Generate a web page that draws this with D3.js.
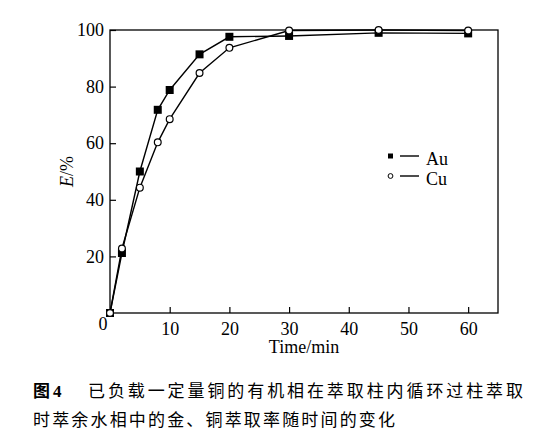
<!DOCTYPE html>
<html><head><meta charset="utf-8">
<script src="https://cdn.jsdelivr.net/npm/d3@7"></script>
<style>
html,body{margin:0;padding:0;background:#fff;}
svg{display:block;}
</style>
</head><body>
<svg id="chart" width="548" height="437"></svg>
<script>
const times = [0, 2, 5, 8, 10, 15, 20, 30, 45, 60];
const auValues = [0, 21.2, 50.0, 71.8, 78.8, 91.4, 97.6, 97.9, 99.0, 98.8];
const cuValues = [0, 22.8, 44.3, 60.3, 68.5, 84.8, 93.7, 99.8, 100, 99.8];
const xTicks = [10, 20, 30, 40, 50, 60];
const yTicks = [20, 40, 60, 80, 100];
const seriesNames = ["Au", "Cu"];
const xTitle = "Time/min";
const captionLine1 = "已负载一定量铜的有机相在萃取柱内循环过柱萃取";
const captionLine2 = "时萃余水相中的金、铜萃取率随时间的变化";

const svg = d3.select("#chart");
const W = 548, H = 437;
const m = {left: 110, top: 30, right: 50, bottom: 124};
const serif = "'Liberation Serif','Times New Roman',serif";
const x = d3.scaleLinear().domain([0, 65]).range([m.left, W - m.right]);
const y = d3.scaleLinear().domain([0, 100]).range([H - m.bottom, m.top]);

svg.append("rect").attr("width", W).attr("height", H).attr("fill", "#fff");

// axes
const gx = svg.append("g").attr("transform", `translate(0,${y(0)})`)
  .call(d3.axisBottom(x).tickValues(xTicks).tickSizeInner(-6).tickSizeOuter(0).tickPadding(9));
const gy = svg.append("g").attr("transform", `translate(${x(0)},0)`)
  .call(d3.axisLeft(y).tickValues(yTicks).tickSizeInner(-6).tickSizeOuter(0).tickPadding(6));
[gx, gy].forEach(g => {
  g.select(".domain").remove();
  g.selectAll(".tick line").attr("stroke", "#000").attr("stroke-width", 1.2);
  g.selectAll(".tick text").attr("fill", "#000").style("font-family", serif).style("font-size", "18px");
});
// origin label
svg.append("text").attr("x", x(0) - 7).attr("y", y(0) + 17).attr("text-anchor", "middle")
  .style("font-family", serif).style("font-size", "18px").text("0");

// frame
svg.append("rect").attr("x", x(0)).attr("y", y(100)).attr("width", x(65) - x(0)).attr("height", y(0) - y(100))
  .attr("fill", "none").attr("stroke", "#000").attr("stroke-width", 1.3);

// axis titles
svg.append("text").attr("x", (x(0) + x(65)) / 2).attr("y", 353).attr("text-anchor", "middle")
  .style("font-family", serif).style("font-size", "18px").text(xTitle);
const yt = svg.append("text").attr("transform", `translate(73,${(y(0) + y(100)) / 2}) rotate(-90)`)
  .attr("text-anchor", "middle").style("font-family", serif).style("font-size", "18px");
yt.append("tspan").style("font-style", "italic").text("E");
yt.append("tspan").text("/%");

const line = d3.line().x(d => x(d[0])).y(d => y(d[1]));
const auData = times.map((t, i) => [t, auValues[i]]);
const cuData = times.map((t, i) => [t, cuValues[i]]);

svg.append("path").datum(auData).attr("d", line).attr("fill", "none").attr("stroke", "#000").attr("stroke-width", 1.4);
svg.append("path").datum(cuData).attr("d", line).attr("fill", "none").attr("stroke", "#000").attr("stroke-width", 1.4);

svg.append("g").selectAll("rect").data(auData).join("rect")
  .attr("x", d => x(d[0]) - 4).attr("y", d => y(d[1]) - 4).attr("width", 8).attr("height", 8).attr("fill", "#000");
svg.append("g").selectAll("circle").data(cuData).join("circle")
  .attr("cx", d => x(d[0])).attr("cy", d => y(d[1])).attr("r", 3.4)
  .attr("fill", "#fff").attr("stroke", "#000").attr("stroke-width", 1.2);

// legend
const lg = svg.append("g");
const ly = [156, 176];
lg.append("rect").attr("x", 388).attr("y", ly[0] - 2.5).attr("width", 5).attr("height", 5).attr("fill", "#000");
lg.append("circle").attr("cx", 390.5).attr("cy", ly[1]).attr("r", 2.4).attr("fill", "#fff").attr("stroke", "#000").attr("stroke-width", 1);
seriesNames.forEach((n, i) => {
  lg.append("line").attr("x1", 400).attr("x2", 419).attr("y1", ly[i]).attr("y2", ly[i]).attr("stroke", "#000").attr("stroke-width", 1.4);
  lg.append("text").attr("x", 426).attr("y", ly[i] + 8.5).style("font-family", serif).style("font-size", "18px").text(n);
});

// caption
const cjk = "'Noto Sans CJK SC','Noto Sans CJK JP',sans-serif";
const c1 = svg.append("text").attr("y", 397).style("font-size", "17px");
svg.append("text").attr("x", 33).attr("y", 397).style("font-family", cjk).style("font-size", "17px").style("font-weight", "bold").text("图");
svg.append("text").attr("x", 53).attr("y", 397).style("font-family", serif).style("font-size", "17px").style("font-weight", "bold").text("4");
svg.append("text").attr("x", 88).attr("y", 397).style("font-family", cjk).style("font-size", "17px")
  .attr("textLength", 435).attr("lengthAdjust", "spacing").text(captionLine1);
svg.append("text").attr("x", 33).attr("y", 426).style("font-family", cjk).style("font-size", "17px")
  .attr("textLength", 362).attr("lengthAdjust", "spacing").text(captionLine2);
</script>
</body></html>
